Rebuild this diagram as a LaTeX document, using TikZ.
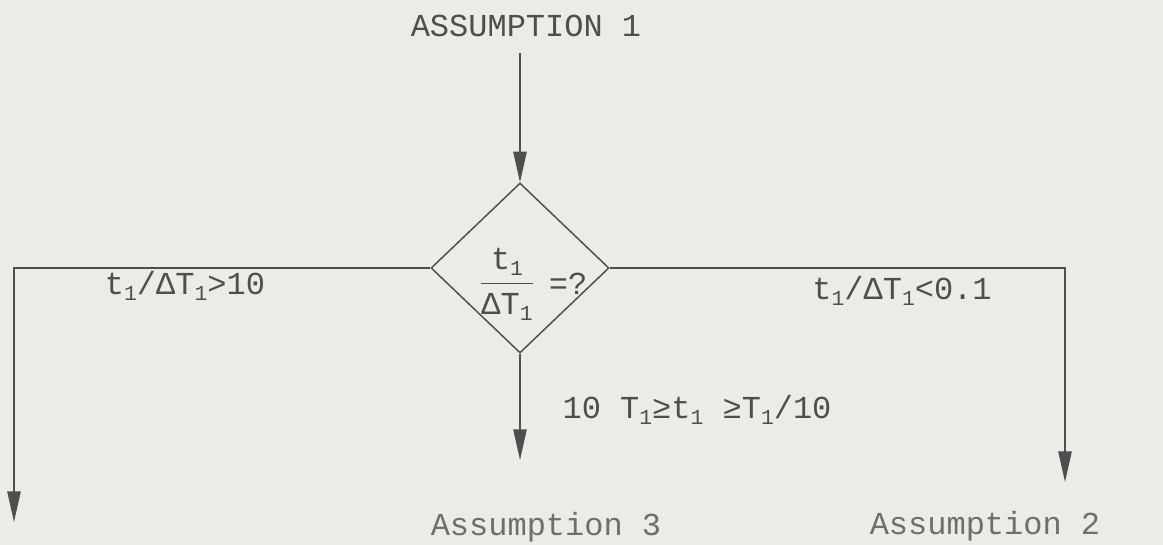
\documentclass[tikz,border=0pt]{standalone}
\usepackage{amsmath}
\usepackage{fontspec}
\setmainfont{Liberation Mono}
\usetikzlibrary{arrows.meta,shapes.geometric}
\definecolor{paper}{HTML}{ECEBE6}
\definecolor{ink}{HTML}{4E4E4E}
\definecolor{faint}{HTML}{6E6E6E}
\newcommand\sbs[1]{\raisebox{-0.35ex}{\fontsize{16}{16}\selectfont #1}}
\begin{document}
\begin{tikzpicture}[x=0.75pt,y=-0.75pt,
  lbl/.style={text=ink,font=\fontsize{24}{28}\selectfont,inner sep=0pt,anchor=center},
  asm/.style={text=faint,font=\fontsize{24}{28}\selectfont,inner sep=0pt,anchor=center},
  conn/.style={draw=ink,line width=1.1pt},
  arr/.style={conn,-{Triangle[length=23pt,width=10pt]}},
  dia/.style={diamond,draw=ink,line width=1.1pt,minimum width=133.5pt,minimum height=127.5pt,inner sep=0pt}]
\fill[paper] (0,0) rectangle (1163,545);
\useasboundingbox (0,0) rectangle (1163,545);
\node[lbl] (a1) at (526,26) {ASSUMPTION 1};
\node[dia] (d) at (520,268) {};
\node[lbl] (frac) at (507,284) {$\color{ink}\dfrac{\text{t\sbs1}}{\text{ΔT\sbs1}}$};
\node[lbl] (eq) at (568,284) {=?};
\node[lbl] (lab1) at (185,286) {t\sbs1/ΔT\sbs1>10};
\node[lbl] (lab2) at (902,291) {t\sbs1/ΔT\sbs1<0.1};
\node[lbl] (lab3) at (697,410) {10 T\sbs1≥t\sbs1 ≥T\sbs1/10};
\node[asm] (as3) at (546,527) {Assumption 3};
\node[asm] (as2) at (985,526) {Assumption 2};
\coordinate (le) at (14,522);
\coordinate (re) at (1065,482);
\coordinate (be) at (520,460);
\draw[arr,shorten <=12pt] (a1.south -| d.north) -- (d.north);
\draw[arr] (d.west) -| (le);
\draw[arr] (d.east) -| (re);
\draw[arr] (d.south) -- (be);
\end{tikzpicture}
\end{document}
